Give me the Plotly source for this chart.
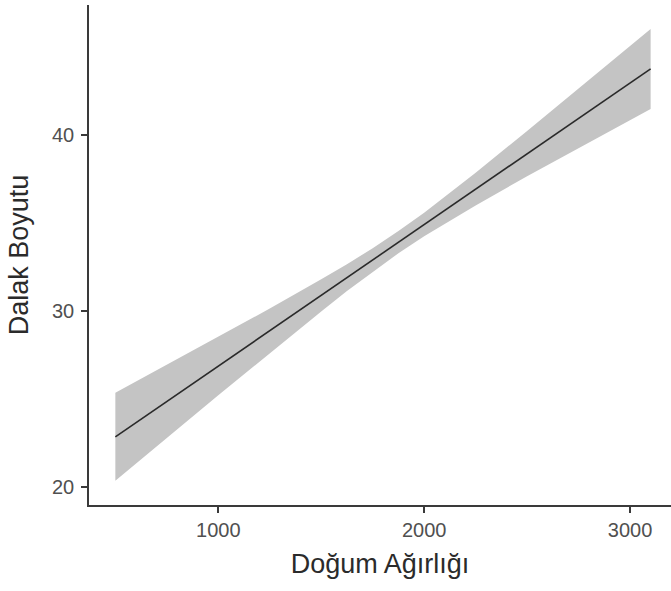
import plotly.graph_objects as go

# Fitted linear regression with 95% confidence band
birth_weight = [500, 750, 1000, 1250, 1500, 1625, 1750, 1875, 2000, 2125, 2250, 2500, 2750, 3100]
fit = [22.87, 24.88, 26.89, 28.89, 30.90, 31.90, 32.91, 33.92, 34.92, 35.92, 36.93, 38.94, 40.95, 43.75]
ci_low = [20.37, 22.80, 25.23, 27.63, 29.99, 31.14, 32.24, 33.29, 34.25, 35.14, 36.00, 37.66, 39.24, 41.48]
ci_high = [25.37, 26.95, 28.55, 30.15, 31.81, 32.66, 33.58, 34.55, 35.59, 36.70, 37.86, 40.23, 42.66, 46.02]

x_ticks = [1000, 2000, 3000]
y_ticks = [20, 30, 40]

FONT = "Liberation Sans, Arial, sans-serif"

fig = go.Figure()

# confidence band
fig.add_trace(go.Scatter(
    x=birth_weight + birth_weight[::-1],
    y=ci_high + ci_low[::-1],
    fill="toself",
    fillcolor="#c4c4c4",
    line=dict(width=0),
    mode="lines",
    hoverinfo="skip",
    showlegend=False,
))

# regression line
fig.add_trace(go.Scatter(
    x=birth_weight,
    y=fit,
    mode="lines",
    line=dict(color="#2a2a2a", width=1.6),
    showlegend=False,
))

axis_common = dict(
    showgrid=False,
    zeroline=False,
    showline=True,
    linecolor="#3a3a3a",
    linewidth=1.5,
    ticks="outside",
    ticklen=6,
    tickwidth=1.5,
    tickcolor="#3a3a3a",
    tickfont=dict(family=FONT, size=20, color="#505050"),
)

fig.update_xaxes(
    **axis_common,
    range=[372, 3199],
    tickvals=x_ticks,
    ticktext=[str(v) for v in x_ticks],
    title=dict(text="Doğum Ağırlığı", font=dict(family=FONT, size=27, color="#2b2b2b"), standoff=14),
)
fig.update_yaxes(
    **axis_common,
    range=[19.0, 47.38],
    tickvals=y_ticks,
    ticktext=[str(v) for v in y_ticks],
    ticklabelstandoff=3,
    title=dict(text="Dalak Boyutu", font=dict(family=FONT, size=27, color="#2b2b2b"), standoff=16),
)

fig.update_layout(
    width=671,
    height=591,
    margin=dict(l=89, r=0, t=5, b=86, autoexpand=False),
    plot_bgcolor="white",
    paper_bgcolor="white",
)

fig.write_html("out.html")
